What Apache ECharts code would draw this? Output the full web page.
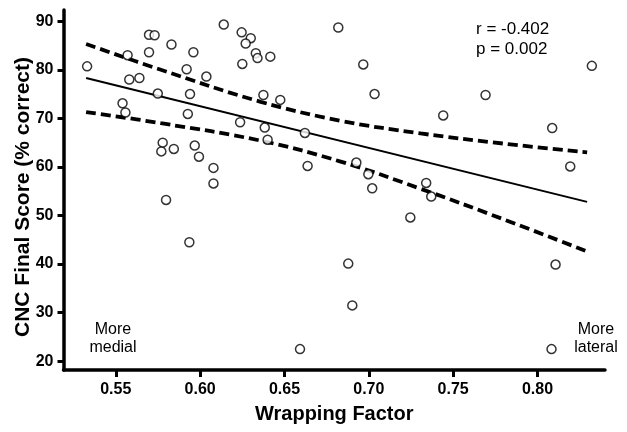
<!DOCTYPE html>
<html>
<head>
<meta charset="utf-8">
<script src="https://cdn.jsdelivr.net/npm/echarts@6/dist/echarts.min.js"></script>
<style>
html,body{margin:0;padding:0;background:#fff;}
#chart{width:627px;height:432px;}
</style>
</head>
<body>
<div id="chart"></div>
<script>
// ---- data ----
const wrappingFactor = [
  0.533,0.557,0.5697,0.573,0.583,0.5697,0.596,0.592,0.614,0.6246,
  0.630,0.627,0.633,0.634,0.625,0.558,0.564,0.6037,0.5749,0.594,
  0.554,0.5557,0.5927,0.6237,0.5778,0.577,0.5844,0.5968,0.5993,0.6079,
  0.6079,0.5798,0.6416,0.6819,0.6967,0.7034,0.6375,0.6475,0.6383,0.6621,
  0.640,0.6637,0.6926,0.6997,0.702,0.734,0.737,0.8322,0.7692,0.7441,
  0.8087,0.8194,0.7246,0.6878,0.6902,0.6592,0.5936,0.8107,0.8083
];
const cncScore = [
  80.7,83.0,87.2,87.1,85.2,83.6,83.6,80.1,89.3,87.7,
  86.5,85.4,83.4,82.4,81.2,78.0,78.3,78.6,75.1,75.0,
  73.1,71.2,70.9,69.2,65.0,63.2,63.7,64.4,62.1,59.8,
  56.6,53.2,82.7,88.7,81.1,75.0,74.8,73.8,68.1,67.0,
  65.6,60.2,60.9,58.5,55.6,56.7,53.9,80.8,74.8,70.6,
  68.0,60.1,49.6,40.1,31.5,22.5,44.5,39.9,22.5
];
const fitX = [0.5324, 0.8294];
const fitY = [78.3, 52.8];
const bandX = [0.5324, 0.5767, 0.6359, 0.6833, 0.7307, 0.780, 0.8294];
const upperBand = [85.3, 80.0, 73.4, 69.5, 66.9, 64.8, 63.0];
const lowerBand = [71.3, 69.0, 65.4, 61.1, 55.5, 49.2, 42.6];
const xTicks = [0.55, 0.60, 0.65, 0.70, 0.75, 0.80];
const yTicks = [20, 30, 40, 50, 60, 70, 80, 90];
const statsText = ['r = -0.402', 'p = 0.002'];
const leftNote = ['More', 'medial'];
const rightNote = ['More', 'lateral'];

const zip = (a, b) => a.map((v, i) => [v, b[i]]);
const FONT = '"Liberation Sans", Arial, Helvetica, sans-serif';

const chart = echarts.init(document.getElementById('chart'), null, {renderer: 'canvas'});
chart.setOption({
  animation: false,
  backgroundColor: '#fff',
  grid: {left: 63.5, right: 22, top: 10, bottom: 62},
  xAxis: {
    type: 'value', min: 0.519, max: 0.840,
    name: 'Wrapping Factor', nameLocation: 'middle', nameGap: 34, nameMoveOverlap: false,
    nameTextStyle: {fontFamily: FONT, fontSize: 20, fontWeight: 'bold', color: '#000'},
    splitLine: {show: false},
    axisLine: {show: true, onZero: false, lineStyle: {color: '#000', width: 3.5}},
    axisTick: {show: true, length: 7, lineStyle: {color: '#000', width: 3}, customValues: xTicks},
    axisLabel: {customValues: xTicks, margin: 12, fontFamily: FONT, fontSize: 16, fontWeight: 'bold', color: '#000',
      formatter: v => v.toFixed(2)}
  },
  yAxis: {
    type: 'value', min: 18.2, max: 92.3,
    name: 'CNC Final Score (% correct)', nameLocation: 'middle', nameGap: 30, nameRotate: 90, nameMoveOverlap: false,
    nameTextStyle: {fontFamily: FONT, fontSize: 21, fontWeight: 'bold', color: '#000', padding: [0, 14, 0, 0]},
    splitLine: {show: false},
    axisLine: {show: true, onZero: false, lineStyle: {color: '#000', width: 3.5}},
    axisTick: {show: true, length: 6, lineStyle: {color: '#000', width: 3}, customValues: yTicks},
    axisLabel: {customValues: yTicks, margin: 10, fontFamily: FONT, fontSize: 16, fontWeight: 'bold', color: '#000'}
  },
  series: [
    {type: 'line', data: zip(bandX, upperBand), smooth: 0.4, symbol: 'none',
      lineStyle: {color: '#000', width: 3.8, type: [10, 5]}, z: 2},
    {type: 'line', data: zip(bandX, lowerBand), smooth: 0.4, symbol: 'none',
      lineStyle: {color: '#000', width: 3.8, type: [10, 5]}, z: 2},
    {type: 'line', data: zip(fitX, fitY), symbol: 'none',
      lineStyle: {color: '#000', width: 2}, z: 2},
    {type: 'scatter', data: zip(wrappingFactor, cncScore), symbol: 'circle', symbolSize: 9,
      itemStyle: {color: '#fff', borderColor: '#000', borderWidth: 1.5}, z: 3}
  ],
  graphic: [
    {type: 'text', left: 476, top: 20, style: {text: statsText.join('\n'), font: '17px ' + FONT, fill: '#000', lineHeight: 19.5}},
    {type: 'text', x: 113, y: 339, style: {text: leftNote.join('\n'), font: '16px ' + FONT, fill: '#000', lineHeight: 18, align: 'center', verticalAlign: 'middle'}},
    {type: 'text', x: 596, y: 339, style: {text: rightNote.join('\n'), font: '16px ' + FONT, fill: '#000', lineHeight: 18, align: 'center', verticalAlign: 'middle'}}
  ]
});
</script>
</body>
</html>
